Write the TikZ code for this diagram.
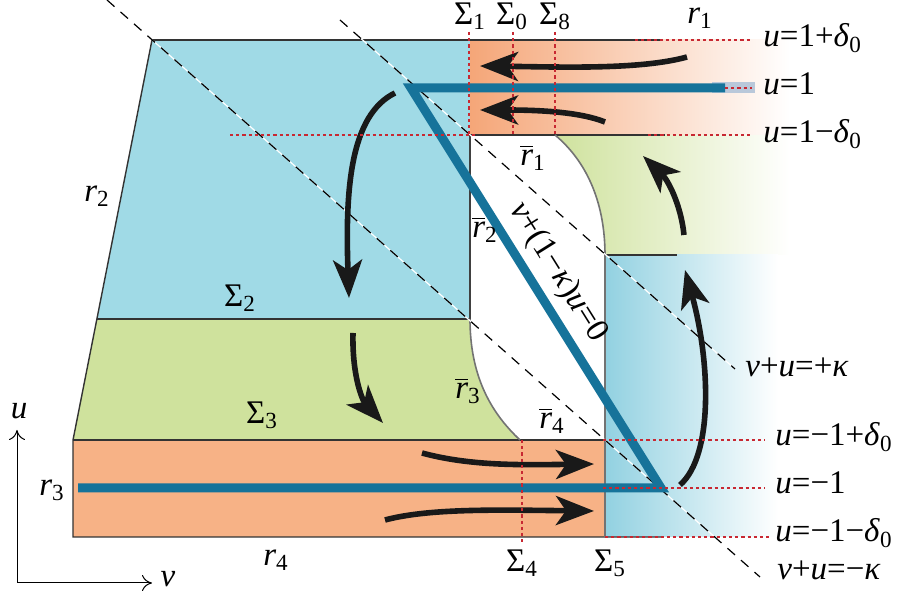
\documentclass[tikz,border=0pt]{standalone}
\usepackage{fontspec}
\setmainfont{Liberation Serif}
\usetikzlibrary{arrows.meta}
\definecolor{cblue}{RGB}{160,218,230}
\definecolor{cblueD}{RGB}{146,209,225}
\definecolor{cgreen}{RGB}{207,226,157}
\definecolor{corange}{RGB}{247,178,134}
\definecolor{corangeD}{RGB}{245,166,120}
\definecolor{cline}{RGB}{22,115,154}
\definecolor{cred}{RGB}{200,40,50}
\definecolor{cbox}{RGB}{185,200,218}
\newcommand{\vi}[1]{\textit{#1}}
\newcommand{\rbr}[1]{$\overline{\mbox{\textit{r}}}$\textsubscript{#1}}
\begin{document}
\begin{tikzpicture}[x=0.5pt,y=-0.5pt,font=\fontsize{16.5}{19}\selectfont,
  outl/.style={draw=black!80,line width=0.7pt},
  bound/.style={draw=black!55,line width=0.8pt},
  reddot/.style={draw=cred,line width=0.6pt,dash pattern=on 1.6pt off 1.5pt},
  dashunder/.style={draw=white,line width=0.6pt},
  dashover/.style={draw=black,line width=0.6pt,dash pattern=on 5pt off 4pt},
  flow/.style={draw=black!90,line width=2.8pt,-{Stealth[length=19pt,width=14.5pt,inset=5pt]}},
  lab/.style={inner sep=0pt},
  axis/.style={draw=black,line width=0.5pt,-{To[length=5pt,width=8pt]}}]
\useasboundingbox (0,0) rectangle (902,597);

% ---------- filled regions ----------
\fill[cblue] (152,40) -- (470,40) -- (470,319) -- (97,319) -- cycle;
\fill[cgreen] (97,319) -- (470,319) .. controls (470,375) and (490,412) .. (520,440) -- (73,440) -- cycle;
\fill[corange] (73,440) rectangle (605,537);
\shade[left color=corangeD,right color=white] (470,40) rectangle (790,135);
\shade[left color=cgreen,right color=white] (555,135) -- (790,135) -- (790,255) -- (605,255) .. controls (605,200) and (585,160) .. (555,135) -- cycle;
\shade[left color=cblueD,right color=white] (605,255) rectangle (778,537);

% ---------- outlines ----------
\draw[outl] (152,40) -- (660,40);
\draw[outl] (152,40) -- (73,440) -- (73,537) -- (663,537);
\draw[outl] (97,319) -- (470,319);
\draw[outl] (73,440) -- (605,440);
\draw[outl] (470,135) -- (665,135);
\draw[outl] (605,255) -- (677,255);
\draw[draw=black!75,line width=0.8pt] (470,135) -- (470,319);
\draw[bound] (470,319) .. controls (470,375) and (490,412) .. (520,440);
\draw[bound] (555,135) .. controls (585,160) and (605,200) .. (605,255) -- (605,537);

% ---------- dashed characteristic lines ----------
\coordinate (a1) at (107,0);
\coordinate (a2) at (760,577);
\coordinate (b1) at (340,20);
\coordinate (b2) at (735,369);
\draw[dashunder] (a1) -- (a2);
\draw[dashover] (a1) -- (a2);
\draw[dashunder] (b1) -- (b2);
\draw[dashover] (b1) -- (b2);

% ---------- thick blue line ----------
\coordinate (p0) at (725,88);
\coordinate (p1) at (411,88);
\coordinate (p2) at (661,488);
\coordinate (p3) at (78,488);
\coordinate (q0) at (712,88);
\coordinate (q1) at (755,88);
\draw[cbox,line width=5.5pt] (q0) -- (q1);
\draw[cline,line width=4.5pt,line join=miter] (p0) -- (p1) -- (p2) -- (p3);

% ---------- flow arrows ----------
\coordinate (f1a) at (687,57);  \coordinate (f1b) at (480,66);
\coordinate (f2a) at (605,122); \coordinate (f2b) at (480,110);
\coordinate (f3a) at (395,93);  \coordinate (f3b) at (349,298);
\coordinate (f4a) at (353,333); \coordinate (f4b) at (383,423);
\coordinate (f5a) at (422,453); \coordinate (f5b) at (594,464);
\coordinate (f6a) at (385,520); \coordinate (f6b) at (594,511);
\coordinate (f7a) at (680,485); \coordinate (f7b) at (685,270);
\coordinate (f8a) at (684,235); \coordinate (f8b) at (643,156);
\draw[flow] (f1a) .. controls (640,70) and (560,67) .. (f1b);
\draw[flow] (f2a) .. controls (580,112) and (540,110) .. (f2b);
\draw[flow] (f3a) .. controls (350,115) and (345,190) .. (f3b);
\draw[flow] (f4a) .. controls (352,375) and (362,400) .. (f4b);
\draw[flow] (f5a) .. controls (470,466) and (520,465) .. (f5b);
\draw[flow] (f6a) .. controls (430,508) and (500,510) .. (f6b);
\draw[flow] (f7a) .. controls (714,455) and (710,360) .. (f7b);
\draw[flow] (f8a) .. controls (681,205) and (668,180) .. (f8b);

% ---------- red dotted reference lines ----------
\draw[reddot] (469,32) -- (469,135);
\draw[reddot] (513,32) -- (513,135);
\draw[reddot] (555,32) -- (555,135);
\draw[reddot] (522,440) -- (522,545);
\draw[reddot] (635,40) -- (752,40);
\draw[reddot] (725,88) -- (752,88);
\draw[reddot] (230,135) -- (475,135);
\draw[reddot] (648,135) -- (752,135);
\draw[reddot] (603,440) -- (765,440);
\draw[reddot] (603,488) -- (765,488);
\draw[reddot] (605,537) -- (770,537);

% ---------- axes ----------
\coordinate (o) at (17,583);
\coordinate (ux) at (17,430);
\coordinate (vx) at (152,583);
\draw[axis] (o) -- (ux);
\draw[axis] (o) -- (vx);
\node[lab] (ul) at (19,411) {\vi{u}};
\node[lab] (vl) at (168,579) {\vi{v}};

% ---------- labels ----------
\node[lab] (S1) at (470,16) {Σ\textsubscript{1}};
\node[lab] (S0) at (512,16) {Σ\textsubscript{0}};
\node[lab] (S8) at (555,16) {Σ\textsubscript{8}};
\node[lab] (r1) at (700,18) {\vi{r}\textsubscript{1}};
\node[lab,anchor=base west] (ua) at (763,47) {\vi{u}=1+\vi{δ}\textsubscript{0}};
\node[lab,anchor=base west] (ub) at (763,95) {\vi{u}=1};
\node[lab,anchor=base west] (uc) at (763,143) {\vi{u}=1−\vi{δ}\textsubscript{0}};
\node[lab,anchor=base west] (kp) at (745,377) {\vi{v}+\vi{u}=+\vi{κ}};
\node[lab,anchor=base west] (ud) at (775,446) {\vi{u}=−1+\vi{δ}\textsubscript{0}};
\node[lab,anchor=base west] (ue) at (775,494) {\vi{u}=−1};
\node[lab,anchor=base west] (uf) at (775,542) {\vi{u}=−1−\vi{δ}\textsubscript{0}};
\node[lab,anchor=base west] (km) at (777,580) {\vi{v}+\vi{u}=−\vi{κ}};
\node[lab] (r2) at (97,196) {\vi{r}\textsubscript{2}};
\node[lab] (S2) at (240,298) {Σ\textsubscript{2}};
\node[lab] (S3) at (262,415) {Σ\textsubscript{3}};
\node[lab] (rb1) at (533,158) {\rbr{1}};
\node[lab] (rb2) at (485,230) {\rbr{2}};
\node[lab] (rb3) at (468,391) {\rbr{3}};
\node[lab] (rb4) at (552,421) {\rbr{4}};
\node[lab] (r3) at (52,490) {\vi{r}\textsubscript{3}};
\node[lab] (r4) at (276,560) {\vi{r}\textsubscript{4}};
\node[lab] (S4) at (522,563) {Σ\textsubscript{4}};
\node[lab] (S5) at (610,563) {Σ\textsubscript{5}};
\node[lab,rotate=-58] (eq) at (558,272) {\vi{v}+(1−\vi{κ})\vi{u}=0};
\end{tikzpicture}
\end{document}
